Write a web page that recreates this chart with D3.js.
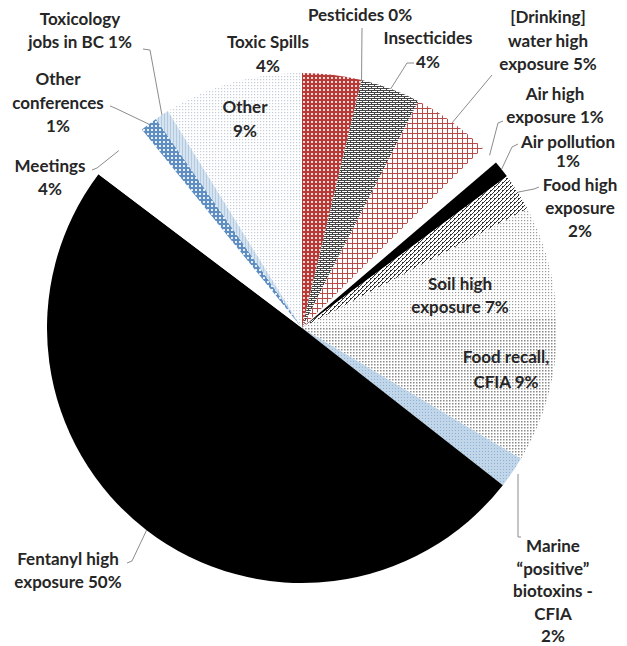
<!DOCTYPE html>
<html>
<head>
<meta charset="utf-8">
<script src="https://cdn.jsdelivr.net/npm/d3@7/dist/d3.min.js"></script>
<style>
  html, body { margin: 0; padding: 0; background: #fff; }
  svg { display: block; }
  text { font-family: Lato, "Open Sans", sans-serif; font-weight: 700; font-size: 17px; fill: #262626; }
</style>
</head>
<body>
<svg id="chart" width="627" height="646"></svg>
<script>
// ---- data (clockwise from 12 o'clock) ----
const categories = [
  "Toxic Spills", "Pesticides", "Insecticides", "[Drinking] water high exposure",
  "Air high exposure", "Air pollution", "Food high exposure", "Soil high exposure",
  "Food recall, CFIA", "Marine \u201cpositive\u201d biotoxins - CFIA", "Fentanyl high exposure",
  "Meetings", "Other conferences", "Toxicology jobs in BC", "Other"
];
const values = [3.75, 0, 3.8, 5.0, 1.2, 1.1, 2.4, 7.1, 9.2, 2.0, 49.7, 3.9, 1.1, 0.9, 8.8];
const labelLines = [
  ["Toxic Spills", "{p}"],
  ["Pesticides {p}"],
  ["Insecticides", "{p}"],
  ["[Drinking]", "water high", "exposure {p}"],
  ["Air high", "exposure {p}"],
  ["Air pollution", "{p}"],
  ["Food high", "exposure", "{p}"],
  ["Soil high", "exposure {p}"],
  ["Food recall,", "CFIA {p}"],
  ["Marine", "\u201cpositive\u201d", "biotoxins -", "CFIA", "{p}"],
  ["Fentanyl high", "exposure {p}"],
  ["Meetings", "{p}"],
  ["Other", "conferences", "{p}"],
  ["Toxicology", "jobs in BC {p}"],
  ["Other", "{p}"]
];

// ---- layout / style (not data) ----
const W = 627, H = 646;
const cx = 302, cy = 328, R = 255;
const fills = [
  "url(#p-toxic)", "url(#p-toxic)", "url(#p-insect)", "url(#p-water)",
  "#ffffff", "#000000", "url(#p-foodhigh)", "url(#p-soil)",
  "url(#p-recall)", "url(#p-marine)", "#000000",
  "#ffffff", "url(#p-conf)", "url(#p-jobs)", "url(#p-other)"
];
// label anchor (center x, first baseline y, line step) and leader start points
const labelLayout = [
  { x: 268, y: 48, dy: 24, leader: null },
  { x: 360, y: 21, dy: 24, leader: [[362, 28]] },
  { x: 428, y: 44, dy: 23.5, leader: [[414, 63], [407, 63]] },
  { x: 548, y: 23, dy: 23.5, leader: [[492, 75]] },
  { x: 555, y: 100, dy: 23, leader: [[503, 121], [498, 123]] },
  { x: 568, y: 148, dy: 19, leader: [[518, 144], [512, 147]] },
  { x: 580, y: 191, dy: 23, leader: [[539, 187], [534, 189]] },
  { x: 460, y: 290, dy: 23, leader: null },
  { x: 506, y: 363, dy: 24.5, leader: null },
  { x: 553, y: 552, dy: 22.5, leader: [[521, 537], [518, 537], [518, 474]] },
  { x: 68, y: 565, dy: 22.5, leader: [[127, 563], [132, 561]] },
  { x: 50, y: 172, dy: 23, leader: [[92, 170], [97, 168]] },
  { x: 58, y: 85, dy: 23.5, leader: [[110, 106], [115, 108]] },
  { x: 80, y: 25, dy: 23, leader: [[143, 49], [150, 50]] },
  { x: 245, y: 113, dy: 24, leader: null }
];

const svg = d3.select("#chart");
const defs = svg.append("defs");

function pat(id, w, h, build) {
  const p = defs.append("pattern").attr("id", id)
    .attr("patternUnits", "userSpaceOnUse").attr("width", w).attr("height", h);
  build(p);
}
pat("p-toxic", 4, 4, p => {
  p.append("rect").attr("width", 4).attr("height", 4).attr("fill", "#b83a36");
  p.append("rect").attr("x", 1).attr("y", 1.2).attr("width", 2).attr("height", 1.6).attr("fill", "#fff");
});
pat("p-insect", 6, 4, p => {
  p.append("rect").attr("width", 6).attr("height", 4).attr("fill", "#fff");
  p.append("path").attr("d", "M0,0.5H6M0,2.5H6M0.5,0V2M3.5,2V4")
    .attr("stroke", "#444").attr("stroke-width", 1).attr("fill", "none");
});
pat("p-water", 5, 5, p => {
  p.append("rect").attr("width", 5).attr("height", 5).attr("fill", "#fff");
  p.append("path").attr("d", "M0,0.5H5M0.5,0V5")
    .attr("stroke", "#b84a47").attr("stroke-width", 1).attr("fill", "none");
});
pat("p-foodhigh", 4, 4, p => {
  p.append("rect").attr("width", 4).attr("height", 4).attr("fill", "#fff");
  p.append("path").attr("d", "M-1,5L5,-1M0,2.5H2")
    .attr("stroke", "#333").attr("stroke-width", 1).attr("fill", "none");
});
pat("p-soil", 3, 3, p => {
  p.append("rect").attr("width", 3).attr("height", 3).attr("fill", "#fff");
  p.append("rect").attr("width", 1.2).attr("height", 1.2).attr("fill", "#9a9a9a");
});
pat("p-recall", 3, 3, p => {
  p.append("rect").attr("width", 3).attr("height", 3).attr("fill", "#fff");
  p.append("rect").attr("width", 1.5).attr("height", 1.5).attr("fill", "#8a8a8a");
});
pat("p-marine", 3, 3, p => {
  p.append("rect").attr("width", 3).attr("height", 3).attr("fill", "#c2d6ea");
  p.append("rect").attr("width", 1).attr("height", 1).attr("fill", "#8eb0d2");
});
pat("p-conf", 4, 4, p => {
  p.append("rect").attr("width", 4).attr("height", 4).attr("fill", "#5f8fc2");
  p.append("rect").attr("x", 1).attr("y", 1).attr("width", 2).attr("height", 2).attr("fill", "#e8eff7");
});
pat("p-jobs", 3, 3, p => {
  p.append("rect").attr("width", 3).attr("height", 3).attr("fill", "#d6e3f0");
  p.append("rect").attr("width", 1).attr("height", 3).attr("fill", "#b3c9df");
});
pat("p-other", 3, 3, p => {
  p.append("rect").attr("width", 3).attr("height", 3).attr("fill", "#fff");
  p.append("rect").attr("width", 1.2).attr("height", 1.2).attr("fill", "#c4ccd8");
});

const total = d3.sum(values);
const pct = v => Math.round(v / total * 100) + "%";

const pie = d3.pie().sort(null).value(d => d.value).startAngle(0).endAngle(2 * Math.PI);
const data = categories.map((c, i) => ({ name: c, value: values[i], i }));
const arcs = pie(data);
const arc = d3.arc().innerRadius(0).outerRadius(R);

const g = svg.append("g").attr("transform", `translate(${cx},${cy})`);
g.selectAll("path.slice").data(arcs).join("path")
  .attr("class", "slice")
  .attr("d", arc)
  .attr("fill", d => fills[d.data.i]);

// leaders
const line = d3.line();
arcs.forEach(a => {
  const L = labelLayout[a.data.i];
  if (!L.leader) return;
  const m = (a.startAngle + a.endAngle) / 2;
  const end = [cx + R * Math.sin(m), cy - R * Math.cos(m)];
  const pts = a.data.i === 9 ? L.leader : L.leader.concat([end]);
  svg.append("path")
    .attr("d", line(pts))
    .attr("fill", "none").attr("stroke", "#8c8c8c").attr("stroke-width", 1);
});

// labels
arcs.forEach(a => {
  const i = a.data.i, L = labelLayout[i];
  const t = svg.append("text").attr("text-anchor", "middle");
  labelLines[i].forEach((ln, k) => {
    t.append("tspan").attr("x", L.x).attr("y", L.y + k * L.dy)
      .text(ln.replace("{p}", pct(values[i])));
  });
});
</script>
</body>
</html>
